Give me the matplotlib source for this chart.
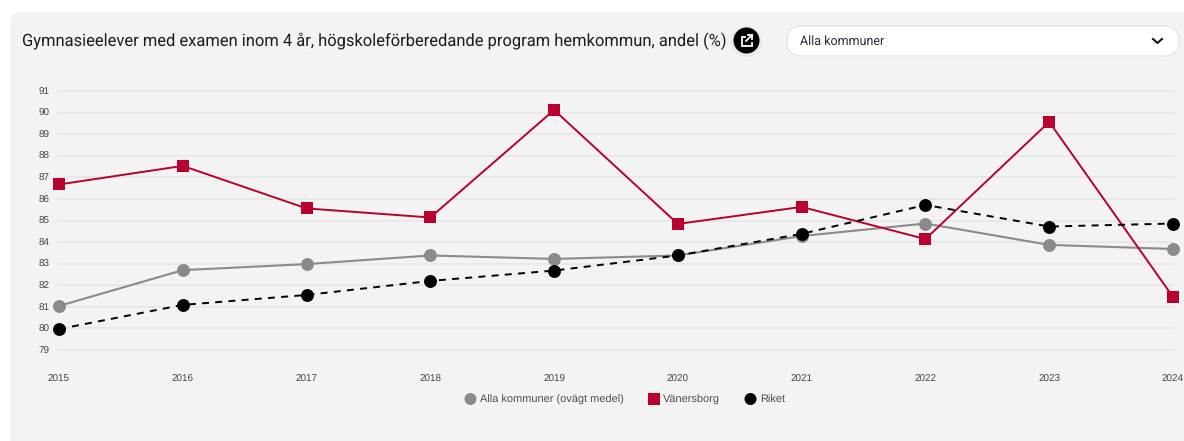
import matplotlib
matplotlib.use("Agg")
import matplotlib.pyplot as plt
from matplotlib.patches import FancyBboxPatch, Circle, Rectangle

plt.rcParams['font.family'] = ['Roboto', 'DejaVu Sans']
plt.rcParams['text.hinting'] = 'no_hinting'
plt.rcParams['text.hinting_factor'] = 8

years = [2015, 2016, 2017, 2018, 2019, 2020, 2021, 2022, 2023, 2024]
alla = [81.04, 82.7, 82.98, 83.38, 83.22, 83.38, 84.28, 84.86, 83.87, 83.68]
vanersborg = [86.67, 87.53, 85.56, 85.14, 90.12, 84.84, 85.63, 84.14, 89.57, 81.46]
riket = [79.97, 81.09, 81.55, 82.2, 82.68, 83.38, 84.38, 85.72, 84.72, 84.86]
y_ticks = [79, 80, 81, 82, 83, 84, 85, 86, 87, 88, 89, 90, 91]

title = "Gymnasieelever med examen inom 4 år, högskoleförberedande program hemkommun, andel (%)"
dropdown = "Alla kommuner"
legend_labels = ["Alla kommuner (ovägt medel)", "Vänersborg", "Riket"]

W, H = 1184, 441
GRAY, RED, BLACK = "#8a8a8a", "#b9002f", "#000000"
fig = plt.figure(figsize=(W / 100, H / 100), dpi=100, facecolor="white")

# page overlay in pixel coordinates
bg = fig.add_axes([0, 0, 1, 1])
bg.set_xlim(0, W)
bg.set_ylim(H, 0)
bg.axis("off")
bg.add_patch(FancyBboxPatch((10, 12), W + 40, H + 40, boxstyle="round,pad=0,rounding_size=9",
                            fc="#f3f3f3", ec="none"))
bg.text(22, 41, title, fontsize=11.92, color="#1c1c1c", va="center", ha="left")

# share button, soft shadow then the disc
bg.add_patch(Circle((746.5, 41.5), 15.5, fc="#000000", alpha=0.04, ec="none"))
bg.add_patch(Circle((746.5, 40.5), 13, fc="black", ec="none"))
bg.plot([745, 741.5, 741.5, 751.5, 751.5], [36.5, 36.5, 46, 46, 42.5], color="white", lw=1.3,
        solid_joinstyle="miter")
bg.plot([746, 752], [41, 35], color="white", lw=1.3)
bg.plot([748, 752, 752], [35, 35, 39], color="white", lw=1.3, solid_joinstyle="miter")

# dropdown
bg.add_patch(FancyBboxPatch((787, 26), 392, 30, boxstyle="round,pad=0,rounding_size=15",
                            fc="white", ec="#e6e6e6", lw=1))
bg.text(800, 41, dropdown, fontsize=9.0, color="#2b2b3a", va="center", ha="left")
bg.plot([1153, 1157.5, 1162], [39, 43, 39], color="#111111", lw=1.5)

# chart, axes box equals the plot area from the grid
ax = fig.add_axes([59 / W, 1 - 350 / H, (1173 - 59) / W, (350 - 91) / H])
ax.patch.set_alpha(0)
ax.set_xlim(years[0], years[-1])
ax.set_ylim(y_ticks[0], y_ticks[-1])
for s in ax.spines.values():
    s.set_visible(False)
ax.set_yticks(y_ticks)
ax.set_xticks(years)
ax.grid(axis="y", color="#e8e8e8", lw=1.4, clip_on=False)
ax.set_axisbelow(True)
ax.tick_params(length=0, labelsize=7.1, labelcolor="#444444")
ax.tick_params(axis="y", pad=6.5)
ax.tick_params(axis="x", pad=18)
for lab in ax.get_xticklabels() + ax.get_yticklabels():
    lab.set_family("Liberation Sans")

ax.plot(years, alla, color=GRAY, lw=1.5, marker="o", ms=9.3, mew=0, clip_on=False, zorder=3)
ax.plot(years, vanersborg, color=RED, lw=1.4, marker="s", ms=9.2, mew=0, clip_on=False, zorder=4)
ax.plot(years, riket, color=BLACK, lw=1.4, ls=(0, (3.6, 3.2)), marker="o", ms=9.3, mew=0,
        clip_on=False, zorder=5)

# legend
leg_y = 399
bg.set_zorder(0)
ax.set_zorder(1)
bg.add_patch(Circle((470.5, leg_y), 6, fc=GRAY, ec="none"))
bg.add_patch(Rectangle((647.5, leg_y - 6), 12, 12, fc=RED, ec="none"))
bg.add_patch(Circle((750.5, leg_y), 6, fc=BLACK, ec="none"))
for x, label in zip([480, 663, 760], legend_labels):
    bg.text(x, leg_y + 1, label, fontsize=7.9, color="#4d4d4d", va="center", ha="left",
            family="Liberation Sans")

fig.savefig("out.png", dpi=100)
